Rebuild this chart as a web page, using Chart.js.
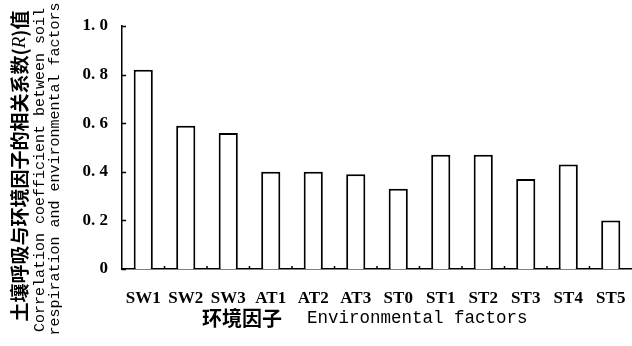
<!DOCTYPE html>
<html>
<head>
<meta charset="utf-8">
<script src="https://cdn.jsdelivr.net/npm/chart.js@4.4.1/dist/chart.umd.min.js"></script>
<style>
  html, body { margin: 0; padding: 0; background: #fff; }
  #wrap { width: 632px; height: 346px; position: relative; }
</style>
</head>
<body>
<div id="wrap"><canvas id="c" width="632" height="346"></canvas></div>
<script>
// Environmental factors on the x axis
const factors = ['SW1', 'SW2', 'SW3', 'AT1', 'AT2', 'AT3', 'ST0', 'ST1', 'ST2', 'ST3', 'ST4', 'ST5'];
// Correlation coefficient (R) between soil respiration and each factor
const rValues = [0.82, 0.59, 0.56, 0.40, 0.40, 0.39, 0.33, 0.47, 0.47, 0.37, 0.43, 0.20];
// Y-axis tick values
const yTicks = [0, 0.2, 0.4, 0.6, 0.8, 1.0];

const yTitleCn = ['土壤呼吸与环境因子的相关系数(', 'R', ')值'];
const yTitleEn1 = 'Correlation coefficient between soil';
const yTitleEn2 = 'respiration and environmental factors';
const xTitleCn = '环境因子';
const xTitleEn = 'Environmental factors';

const INK = '#000';

// Inward tick marks on both axes plus the custom axis titles
const axisDecor = {
  id: 'axisDecor',
  afterDraw(chart) {
    const ctx = chart.ctx;
    const { left, bottom } = chart.chartArea;
    const y = chart.scales.y, x = chart.scales.x;
    ctx.save();
    ctx.strokeStyle = INK;
    ctx.lineWidth = 1.5;
    // y ticks pointing right
    yTicks.forEach(v => {
      const py = Math.round(y.getPixelForValue(v)) + 0.5;
      ctx.beginPath();
      ctx.moveTo(left, py);
      ctx.lineTo(left + 4, py);
      ctx.stroke();
    });
    // x ticks between categories, pointing up
    for (let i = 1; i < factors.length; i++) {
      const px = (x.getPixelForValue(i - 1) + x.getPixelForValue(i)) / 2;
      ctx.beginPath();
      ctx.moveTo(px, bottom);
      ctx.lineTo(px, bottom - 3);
      ctx.stroke();
    }

    // rotated y-axis title, three lines
    ctx.fillStyle = INK;
    ctx.textBaseline = 'middle';
    const drawRotated = (cx, cy, parts) => {
      ctx.save();
      ctx.translate(cx, cy);
      ctx.rotate(-Math.PI / 2);
      let total = 0;
      parts.forEach(p => { ctx.font = p.font; total += ctx.measureText(p.text).width; });
      let pos = -total / 2;
      parts.forEach(p => {
        ctx.font = p.font;
        ctx.textAlign = 'left';
        ctx.fillText(p.text, pos, 0);
        pos += ctx.measureText(p.text).width;
      });
      ctx.restore();
    };
    const cnFont = 'bold 19px "Noto Sans CJK SC"';
    drawRotated(20, 166, [
      { text: yTitleCn[0], font: cnFont },
      { text: yTitleCn[1], font: 'italic 19px "Liberation Serif"' },
      { text: yTitleCn[2], font: cnFont }
    ]);
    drawRotated(40, 170, [{ text: yTitleEn1, font: '15px "Liberation Mono"' }]);
    drawRotated(55, 169, [{ text: yTitleEn2, font: '15px "Liberation Mono"' }]);

    // x-axis title
    ctx.textAlign = 'left';
    ctx.textBaseline = 'middle';
    ctx.font = 'bold 20px "Noto Sans CJK SC"';
    ctx.fillText(xTitleCn, 202, 318);
    ctx.font = '17.5px "Liberation Mono"';
    ctx.fillText(xTitleEn, 307, 318);
    ctx.restore();
  }
};

new Chart(document.getElementById('c'), {
  type: 'bar',
  data: {
    labels: factors,
    datasets: [{
      data: rValues,
      backgroundColor: '#fff',
      borderColor: INK,
      borderWidth: 2,
      barPercentage: 0.45,
      categoryPercentage: 1.0
    }]
  },
  options: {
    responsive: false,
    animation: false,
    layout: { padding: { left: 62, right: 0, top: 26, bottom: 0 } },
    plugins: { legend: { display: false }, tooltip: { enabled: false } },
    scales: {
      x: {
        grid: { display: false, drawTicks: false },
        border: { display: true, color: INK, width: 1.5 },
        ticks: {
          color: INK,
          padding: 19,
          maxRotation: 0,
          autoSkip: false,
          font: { family: 'Liberation Serif', size: 17, weight: 'bold' }
        },
        afterFit(scale) {
          scale.height = 77;
          scale.paddingLeft = 0;
          scale.paddingRight = 0;
        }
      },
      y: {
        min: 0,
        max: 1,
        afterBuildTicks(scale) { scale.ticks = yTicks.map(v => ({ value: v })); },
        grid: { display: false, drawTicks: false },
        border: { display: true, color: INK, width: 1.5 },
        ticks: {
          color: INK,
          padding: 14,
          font: { family: 'Liberation Serif', size: 17, weight: 'bold' },
          callback: v => (v === 0 ? '0' : v.toFixed(1).replace('.', '. '))
        },
        afterFit(scale) {
          scale.width = 60;
          scale.paddingTop = 0;
          scale.paddingBottom = 0;
        }
      }
    }
  },
  plugins: [axisDecor]
});
</script>
</body>
</html>
